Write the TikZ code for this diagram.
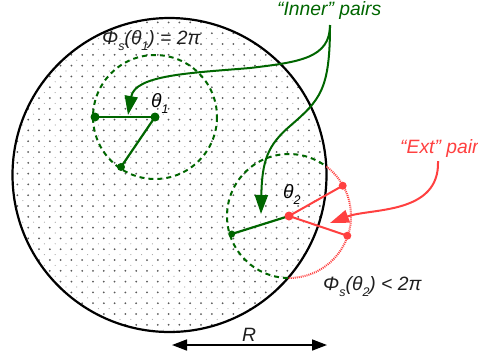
\documentclass[tikz,border=0pt]{standalone}
\usepackage{fontspec}
\setmainfont{Liberation Sans}
\usetikzlibrary{arrows.meta}
\definecolor{dgreen}{RGB}{0,102,0}
\definecolor{lred}{RGB}{255,64,64}
\definecolor{txt}{RGB}{30,30,30}
\newcommand{\mysb}[1]{\raisebox{-0.32em}{\fontsize{12.5}{12.5}\selectfont #1}}
\begin{document}
\begin{tikzpicture}[x=1pt,y=-1pt,
  lbl/.style={font=\fontsize{19.3}{22}\selectfont\itshape, inner sep=0pt, anchor=base west},
  gdot/.style={circle, fill=dgreen, inner sep=0pt, minimum size=9pt},
  rdot/.style={circle, fill=lred, inner sep=0pt, minimum size=8pt},
  gline/.style={dgreen, line width=2.2pt},
  rline/.style={lred, line width=2pt},
  gdash/.style={dgreen, line width=2pt, dash pattern=on 5pt off 4pt},
  rdotted/.style={lred, line width=2pt, dash pattern=on 1pt off 1pt},
  bigarr/.style={-{Triangle[length=19pt,width=13pt]}, line width=2pt},
]
\useasboundingbox (0,0) rectangle (478,360);
% dotted fill
\coordinate (O) at (169.5,175);
\begin{scope}
  \clip (O) circle (157);
  \foreach \i in {-3,...,27} {
    \foreach \j in {-18,...,12} {
      \fill[black!65] (39+10.8*\i, 206+10.8*\j) circle (1.0);
      \fill[black!35] (44.4+10.8*\i, 211.4+10.8*\j) circle (0.6);
    }
  }
\end{scope}
\draw[line width=2.2pt] (O) circle (157);

% upper pair
\coordinate (C1) at (155,117);
\draw[gdash] (C1) circle (62);
\node[gdot] (a1) at (C1) {};
\node[gdot] (a2) at (95,117) {};
\node[gdot, minimum size=8pt] (a3) at (121,167) {};
\draw[gline] (a1.center) -- (a2.center);
\draw[gline] (a1.center) -- (a3.center);
\node[lbl] (t1) at (151,107) {θ\mysb{1}};

% lower pair
\coordinate (C2) at (289,216);
\draw[gdash] (C2) ++(91:62) arc[start angle=91, end angle=307, radius=62];
\draw[rdotted] (C2) ++(-53:62) arc[start angle=-53, end angle=91, radius=62];
\node[gdot, minimum size=7pt] (g2) at (231.7,234) {};
\node[rdot] (b2) at (342.7,185.7) {};
\node[rdot] (b3) at (347.3,235.7) {};
\draw[gline] (C2) -- (g2.center);
\draw[rline] (C2) -- (b2.center);
\draw[rline] (C2) -- (b3.center);
\node[rdot, minimum size=9pt] (b1) at (C2) {};
\node[lbl] (t2) at (283,198) {θ\mysb{2}};

% labels
\node[lbl, txt] (phi1) at (102,44) {Φ\mysb{s}(θ\mysb{1}) = 2π};
\node[lbl, txt] (phi2) at (323,290) {Φ\mysb{s}(θ\mysb{2}) < 2π};
\node[lbl, dgreen] (inner) at (277,15) {“Inner” pairs};
\node[lbl, lred] (ext) at (400,153) {“Ext” pair};

% green callout arrows
\coordinate (i0) at (330,25);
\coordinate (i1) at (128,115);
\coordinate (i2) at (261,214);
\draw[dgreen, bigarr] (i0) .. controls (330,58) and (300,62) .. (250,68)
  .. controls (190,73) and (135,75) .. (i1);
\draw[dgreen, bigarr] (i0) .. controls (330,90) and (320,100) .. (290,126)
  .. controls (268,145) and (262,160) .. (i2);

% red callout arrow
\coordinate (e0) at (438,161);
\coordinate (e1) at (330,223);
\draw[lred, bigarr] (e0) .. controls (440,215) and (370,208) .. (e1);

% R dimension
\coordinate (r1) at (172,345);
\coordinate (r2) at (327,345);
\draw[line width=1.6pt, {Triangle[length=15pt,width=11pt]}-{Triangle[length=15pt,width=11pt]}] (r1) -- (r2);
\node[lbl, anchor=base, txt] (R) at (249,341) {R};
\end{tikzpicture}
\end{document}
